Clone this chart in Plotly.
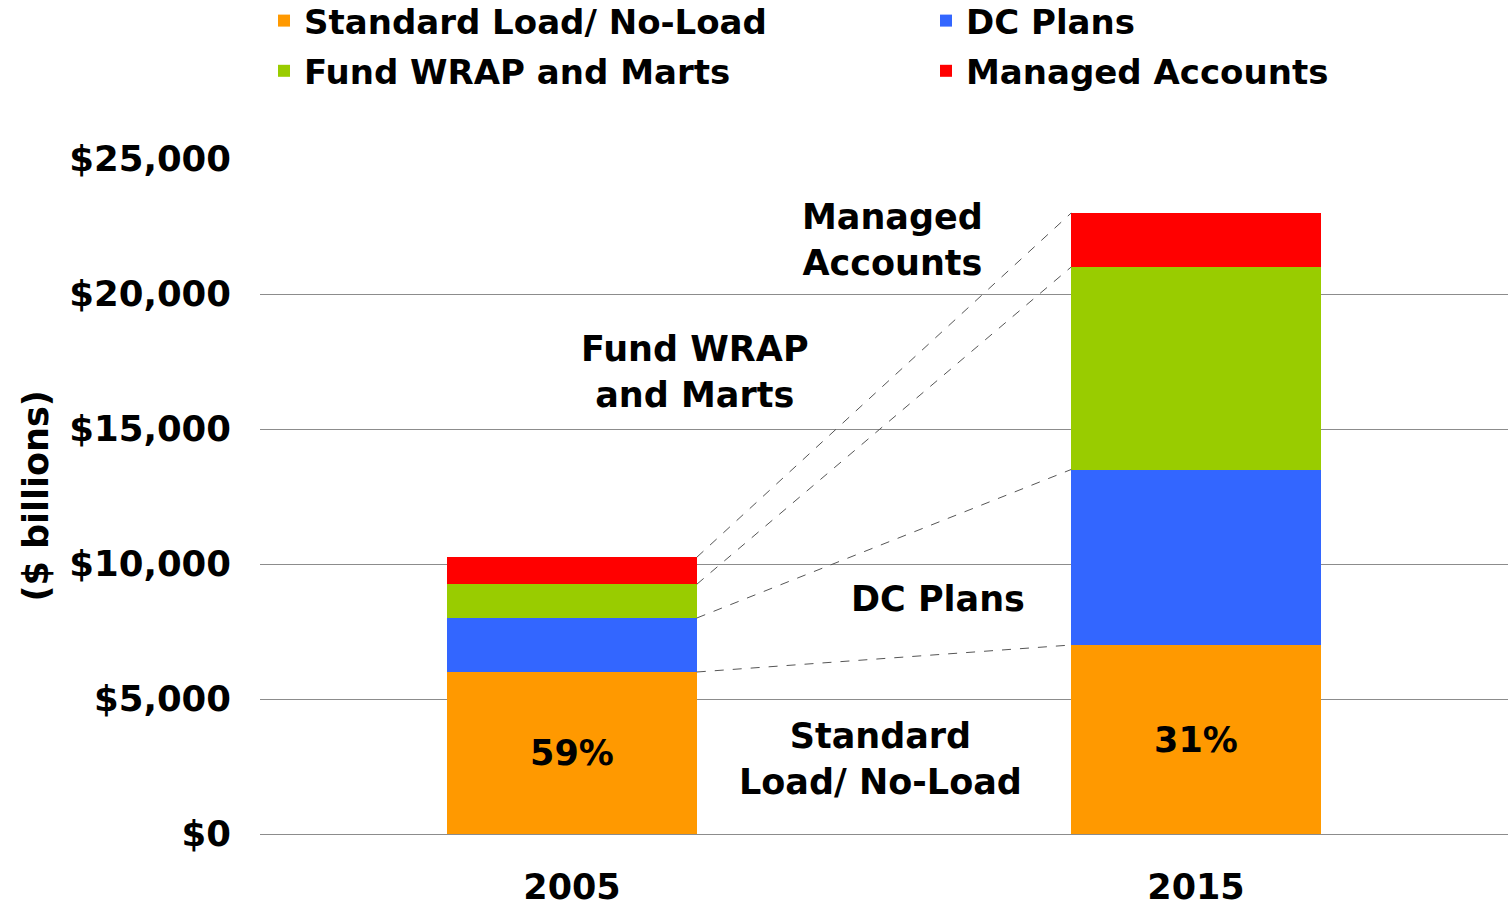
import plotly.graph_objects as go

years = ["2005", "2015"]
series_names = ["Standard Load/ No-Load", "DC Plans", "Fund WRAP and Marts", "Managed Accounts"]
standard_load = [6000, 7000]
dc_plans = [2000, 6500]
fund_wrap = [1250, 7500]
managed_accounts = [1000, 2000]
share_labels = ["59%", "31%"]
colors = ["#FF9900", "#3366FF", "#99CC00", "#FF0000"]
y_tickvals = [0, 5000, 10000, 15000, 20000, 25000]
y_ticktext = ["$0", "$5,000", "$10,000", "$15,000", "$20,000", "$25,000"]
y_title = "($ billions)"

FONT = "DejaVu Sans"
FS = 35
BAR_W = 0.4
PLOT_L, PLOT_R = 260, 1508

series_values = [standard_load, dc_plans, fund_wrap, managed_accounts]
legend_ids = ["legend", "legend2", "legend", "legend2"]

fig = go.Figure()
for i, (name, vals, col) in enumerate(zip(series_names, series_values, colors)):
    fig.add_trace(go.Bar(
        x=[0, 1], y=vals, name=name, width=BAR_W,
        marker=dict(color=col, line=dict(width=0)),
        legend=legend_ids[i], legendgroup=name,
        text=share_labels if i == 0 else None,
        textposition="inside" if i == 0 else None,
        insidetextanchor="middle",
        textfont=dict(family=FONT, size=FS, color="black", weight="bold"),
        hoverinfo="skip",
    ))

# dashed connectors between cumulative segment tops
cum = [0, 0]
for vals in series_values:
    cum = [cum[0] + vals[0], cum[1] + vals[1]]
    fig.add_shape(type="line", xref="x", yref="y",
                  x0=0 + BAR_W / 2, y0=cum[0], x1=1 - BAR_W / 2, y1=cum[1],
                  line=dict(color="#555555", width=1, dash="dash"))

ann_font = dict(family=FONT, size=FS, color="black", weight="bold")
labels = [
    ("Managed<br>Accounts", 0.513, 22000),
    ("Fund WRAP<br>and Marts", 0.197, 17100),
    ("DC Plans", 0.587, 8700),
    ("Standard<br>Load/ No-Load", 0.494, 2760),
]
for txt, ax, ay in labels:
    fig.add_annotation(x=ax, y=ay, xref="x", yref="y", text=txt, showarrow=False,
                       font=ann_font, align="center")

# y-axis title
fig.add_annotation(x=(35 - PLOT_L) / (PLOT_R - PLOT_L), y=0.5, xref="paper", yref="paper",
                   text=y_title, textangle=-90, showarrow=False,
                   xanchor="center", yanchor="middle", font=ann_font)

leg_common = dict(orientation="v", traceorder="grouped", tracegroupgap=3,
                  xref="container", yref="container",
                  yanchor="top", xanchor="left", y=1.0,
                  font=dict(family=FONT, size=34, color="black", weight="bold"),
                  itemclick=False, itemdoubleclick=False)

fig.update_layout(
    barmode="stack",
    width=1511, height=914,
    margin=dict(l=PLOT_L, r=1511 - PLOT_R, t=167, b=72, autoexpand=False),
    plot_bgcolor="white", paper_bgcolor="white",
    font=dict(family=FONT, size=FS, color="black", weight="bold"),
    showlegend=True,
    legend=dict(x=264 / 1511, **leg_common),
    legend2=dict(x=926 / 1511, **leg_common),
    bargap=0,
)
fig.update_xaxes(range=[-0.5, 1.5], tickvals=[0, 1], ticktext=years,
                 showgrid=False, zeroline=False, showline=False, ticks="",
                 ticklabelstandoff=29, automargin=False,
                 tickfont=dict(family=FONT, size=FS, color="black", weight="bold"))
fig.update_yaxes(range=[0, 25000], tickvals=y_tickvals, ticktext=y_ticktext,
                 showgrid=True, gridcolor="#8C8C8C", gridwidth=1,
                 zeroline=True, zerolinecolor="#8C8C8C", zerolinewidth=1,
                 showline=False, ticks="", ticklabelstandoff=28, automargin=False,
                 tickfont=dict(family=FONT, size=35.5, color="black", weight="bold"))

fig.write_html("out.html", config={"displayModeBar": False},
               post_script="document.body.style.margin='0';document.body.style.marginTop='-8px';")
